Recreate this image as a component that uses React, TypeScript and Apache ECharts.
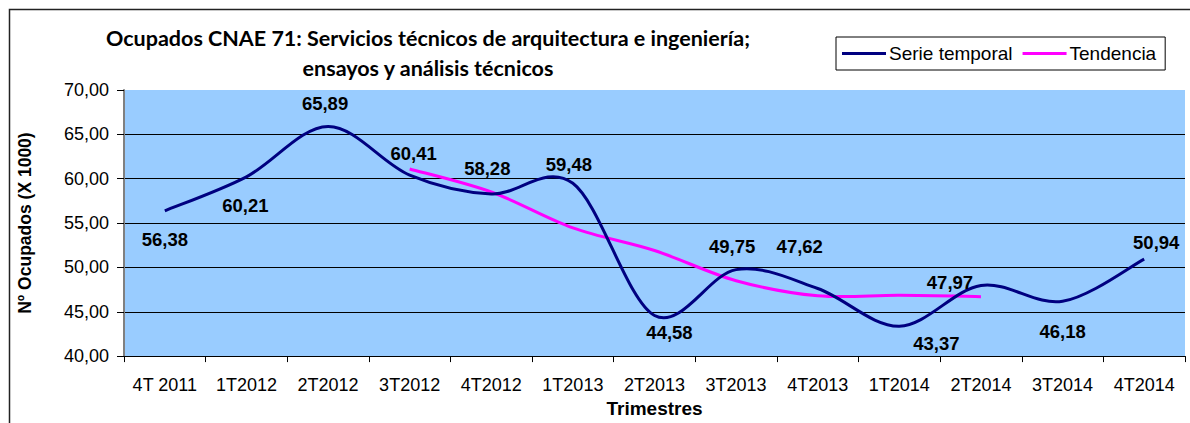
import React, { useEffect, useRef } from 'react';
import * as echarts from 'echarts';

const categories = ['4T 2011', '1T2012', '2T2012', '3T2012', '4T2012', '1T2013', '2T2013', '3T2013', '4T2013', '1T2014', '2T2014', '3T2014', '4T2014'];
const serieTemporal = [56.38, 60.21, 65.89, 60.41, 58.28, 59.48, 44.58, 49.75, 47.62, 43.37, 47.97, 46.18, 50.94];
const tendencia: (number | null)[] = [null, null, null, 61.1, 58.5, 54.45, 51.9, 48.5, 46.8, 46.85, 46.7, null, null];
const titleLines = ['Ocupados CNAE 71: Servicios técnicos de arquitectura e ingeniería;', 'ensayos y análisis técnicos'];
const yName = 'Nº Ocupados (X 1000)';
const xName = 'Trimestres';
const seriesNames = ['Serie temporal', 'Tendencia'];

// label placement (pixels, relative to each point) as in the reference
const labelOffsets: [number, number][] = [
  [0, 29], [-1, 29], [-3, -23], [4, -22], [-4, -25], [-4, -19], [15, 17],
  [-4, -23], [-18, -42], [37, 17], [-31, -3], [0, 30], [12, -17],
];

const fmt = (v: number) => v.toFixed(2).replace('.', ',');
const ARIAL = '"Liberation Sans", Arial, sans-serif';

// Excel-like smoothed path (cubic Bezier, tangents from neighbours / 6)
function smoothPath(pts: number[][]): string {
  if (pts.length < 2) return '';
  let d = `M${pts[0][0]},${pts[0][1]}`;
  for (let i = 0; i < pts.length - 1; i++) {
    const p0 = pts[i - 1] || pts[i];
    const p1 = pts[i];
    const p2 = pts[i + 1];
    const p3 = pts[i + 2] || pts[i + 1];
    const c1x = p1[0] + (p2[0] - p0[0]) / 6;
    const c1y = p1[1] + (p2[1] - p0[1]) / 6;
    const c2x = p2[0] - (p3[0] - p1[0]) / 6;
    const c2y = p2[1] - (p3[1] - p1[1]) / 6;
    d += ` C${c1x},${c1y} ${c2x},${c2y} ${p2[0]},${p2[1]}`;
  }
  return d;
}

function curveSeries(name: string, values: (number | null)[], color: string, z: number) {
  return {
    name,
    type: 'custom',
    data: values.map((v, i) => [i, v == null ? 0 : v]),
    z,
    silent: true,
    renderItem: (params: any, api: any) => {
      if (params.dataIndex !== 0) return null;
      const pts: number[][] = [];
      values.forEach((v, i) => {
        if (v != null) pts.push(api.coord([i, v]));
      });
      return {
        type: 'path',
        shape: { pathData: smoothPath(pts) },
        style: { stroke: color, lineWidth: 3, fill: 'none' },
      };
    },
  };
}

export default function App() {
  const ref = useRef<HTMLDivElement>(null);
  useEffect(() => {
    if (!ref.current) return;
    const chart = echarts.init(ref.current, undefined, { renderer: 'svg' });
    chart.setOption({
      animation: false,
      backgroundColor: '#ffffff',
      title: {
        text: titleLines.join('\n'),
        left: 423,
        top: 18,
        textAlign: 'center',
        textStyle: { fontFamily: 'Lato, "Open Sans", sans-serif', fontWeight: 'bold', fontSize: 21.5, lineHeight: 30, color: '#000' },
      },
      legend: {
        left: 836,
        top: 37,
        padding: [7, 9, 7, 6],
        itemGap: 10,
        itemWidth: 44,
        itemHeight: 3,
        borderColor: '#000',
        borderWidth: 1,
        backgroundColor: '#fff',
        textStyle: { fontFamily: ARIAL, fontSize: 19, color: '#000', padding: [0, 0, 0, -2] },
        data: [
          { name: seriesNames[0], icon: 'rect', itemStyle: { color: '#000080' } },
          { name: seriesNames[1], icon: 'rect', itemStyle: { color: '#FF00FF' } },
        ],
      },
      grid: { left: 124, right: 5, top: 90, bottom: 60, show: true, backgroundColor: '#99CCFF', borderWidth: 0 },
      xAxis: {
        type: 'category',
        data: categories,
        boundaryGap: true,
        name: xName,
        nameLocation: 'middle',
        nameGap: 40,
        nameTextStyle: { fontFamily: ARIAL, fontWeight: 'bold', fontSize: 19, color: '#000' },
        axisLine: { lineStyle: { color: '#000', width: 1 } },
        axisTick: { show: true, length: 6, lineStyle: { color: '#000' } },
        axisLabel: { fontFamily: ARIAL, fontSize: 18, color: '#000', margin: 20, interval: 0 },
        splitLine: { show: false },
      },
      yAxis: {
        type: 'value',
        min: 40,
        max: 70,
        interval: 5,
        name: yName,
        nameLocation: 'middle',
        nameRotate: 90,
        nameGap: 90,
        nameTextStyle: { fontFamily: ARIAL, fontWeight: 'bold', fontSize: 17.5, color: '#000' },
        axisLine: { show: true, lineStyle: { color: '#808080', width: 2 } },
        axisTick: { show: true, length: 7, lineStyle: { color: '#000' } },
        axisLabel: { fontFamily: ARIAL, fontSize: 18, color: '#000', margin: 15, formatter: (v: number) => fmt(v) },
        splitLine: {
          show: true,
          lineStyle: { color: ['#000', '#000', '#000', '#000', '#000', '#000', 'rgba(0,0,0,0)'], width: 1 },
        },
      },
      graphic: [
        { type: 'rect', left: 7, top: 7, shape: { x: 0, y: 0, width: 1300, height: 600 }, style: { fill: 'none', stroke: '#222', lineWidth: 1.5 }, silent: true, z: 100 },
      ],
      series: [
        curveSeries(seriesNames[1], tendencia, '#FF00FF', 2),
        curveSeries(seriesNames[0], serieTemporal, '#000080', 3),
        {
          name: 'labels',
          type: 'line',
          data: serieTemporal.map((v, i) => ({
            value: v,
            label: { offset: labelOffsets[i] },
          })),
          lineStyle: { width: 0, opacity: 0 },
          symbol: 'circle',
          symbolSize: 0,
          showSymbol: true,
          silent: true,
          label: {
            show: true,
            position: 'inside',
            fontFamily: ARIAL,
            fontWeight: 'bold',
            fontSize: 18.5,
            color: '#000',
            formatter: (p: any) => fmt(p.value),
          },
          z: 4,
        },
      ],
    });
    return () => chart.dispose();
  }, []);
  return <div ref={ref} style={{ position: 'absolute', left: 0, top: 0, width: 1190, height: 423 }} />;
}
